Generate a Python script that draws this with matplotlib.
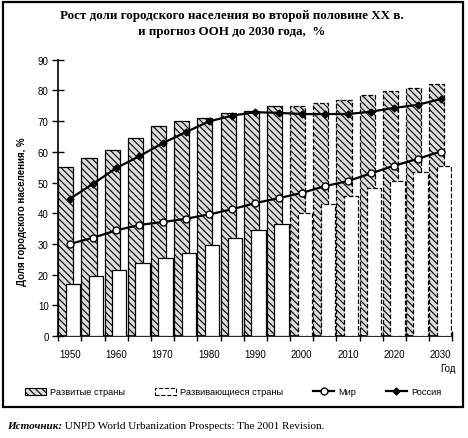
import matplotlib.pyplot as plt
import matplotlib.patches as mpatches
from matplotlib.lines import Line2D

# data (per cent urban population)
years = [1950, 1955, 1960, 1965, 1970, 1975, 1980, 1985, 1990,
         1995, 2000, 2005, 2010, 2015, 2020, 2025, 2030]
developed = [55.0, 58.0, 60.7, 64.5, 68.3, 69.9, 70.9, 72.5, 73.4,
             75.0, 74.8, 75.9, 76.9, 78.5, 79.9, 80.8, 82.1]
developing = [17.0, 19.5, 21.6, 23.7, 25.4, 27.1, 29.5, 31.9, 34.4,
              36.5, 40.1, 43.0, 45.5, 48.1, 50.4, 53.4, 55.5]
world = [30.0, 32.0, 34.4, 36.2, 37.1, 38.2, 39.6, 41.3, 43.3,
         44.9, 46.6, 48.8, 50.5, 53.0, 55.5, 57.7, 60.1]
russia = [44.7, 49.6, 54.7, 58.6, 62.8, 66.4, 69.9, 71.8, 72.9,
          72.7, 72.3, 72.3, 72.3, 73.1, 74.3, 75.3, 77.2]
first_forecast = 2000

plt.rcParams['hatch.linewidth'] = 0.8
plt.rcParams['hatch.color'] = 'black'

fig = plt.figure(figsize=(4.68, 4.39), dpi=100)
ax = fig.add_axes([0.1246, 0.2323, 0.842, 0.6294])

x = list(range(len(years)))
hatch = '\\' * 5
fill_dev = '#dedede'

for i, yr in enumerate(years):
    ls = '--' if yr >= first_forecast else '-'
    ax.bar(i - 0.175, developed[i], width=0.65, facecolor=fill_dev,
           edgecolor='black', hatch=hatch, linewidth=0.9, linestyle=ls, zorder=2)
    ax.bar(i + 0.13, developing[i], width=0.62, facecolor='white',
           edgecolor='black', linewidth=0.9, linestyle=ls, zorder=3)

ax.plot(x, world, color='black', lw=1.6, marker='o', ms=5,
        mfc='white', mec='black', mew=1, zorder=5)
ax.plot(x, russia, color='black', lw=1.6, marker='D', ms=3.5,
        mfc='black', mec='black', zorder=5)

ax.set_xlim(-0.5, len(years) - 0.5)
ax.set_ylim(0, 90)
ax.spines['top'].set_visible(False)
ax.spines['right'].set_visible(False)
ax.spines['left'].set_linewidth(1.2)
ax.spines['bottom'].set_linewidth(1.2)

# tick marks between categories, labels every 10 years at the centres
ax.set_xticks([k - 0.5 for k in range(len(years) + 1)])
ax.set_xticklabels([])
ax.set_xticks(x[::2], minor=True)
ax.set_xticklabels([str(y) for y in years[::2]], minor=True)
ax.tick_params(axis='x', which='major', direction='inout', length=7, width=1)
ax.tick_params(axis='x', which='minor', length=0, pad=9, labelsize=7)
ax.set_yticks(range(0, 91, 10))
ax.tick_params(axis='y', direction='inout', length=8, width=1, pad=3, labelsize=7)
for lab in ax.get_xticklabels(minor=True) + ax.get_yticklabels():
    lab.set_family('Liberation Sans')

fig.text(448 / 468, 1 - 369 / 439, 'Год', ha='center', va='center',
         fontsize=7, family='Liberation Sans')
fig.text(22 / 468, 1 - 212 / 439, 'Доля городского населения, %', rotation=90,
         ha='center', va='center', fontsize=7, fontweight='bold',
         family='Liberation Sans')

fig.text(232 / 468, 1 - 24 / 439,
         'Рост доли городского населения во второй половине XX в.\n'
         'и прогноз ООН до 2030 года,  %',
         ha='center', va='center', fontsize=9.4, fontweight='bold',
         family='Liberation Serif', linespacing=1.35)

# legend row
handles = [
    mpatches.Patch(facecolor=fill_dev, edgecolor='black', hatch=hatch, lw=0.8),
    mpatches.Patch(facecolor='white', edgecolor='black', linestyle='--', lw=0.8),
    Line2D([], [], color='black', lw=1.6, marker='o', ms=5, mfc='white', mec='black'),
    Line2D([], [], color='black', lw=1.6, marker='D', ms=3.5, mfc='black'),
]
labels = ['Развитые страны', 'Развивающиеся страны', 'Мир', 'Россия']
fig.legend(handles, labels, loc='center', bbox_to_anchor=(233 / 468, 1 - 393 / 439),
           ncol=4, frameon=False, columnspacing=3.2, handlelength=2.3,
           handletextpad=0.4, prop={'family': 'Liberation Sans', 'size': 6.7})

# frame round the chart
fig.patches.append(mpatches.Rectangle((3 / 468, 1 - 408 / 439), 460 / 468, 405 / 439,
                                      transform=fig.transFigure, fill=False,
                                      edgecolor='black', lw=1.6))

src = fig.text(7 / 468, 1 - 427 / 439, 'Источник:', ha='left', va='center',
               fontsize=8, fontweight='bold', style='italic', family='Liberation Serif')
plt.annotate(' UNPD World Urbanization Prospects: The 2001 Revision.',
             xy=(1, 0.5), xycoords=src, va='center', ha='left',
             fontsize=8, family='Liberation Serif', annotation_clip=False)

fig.savefig('out.png', dpi=100)
